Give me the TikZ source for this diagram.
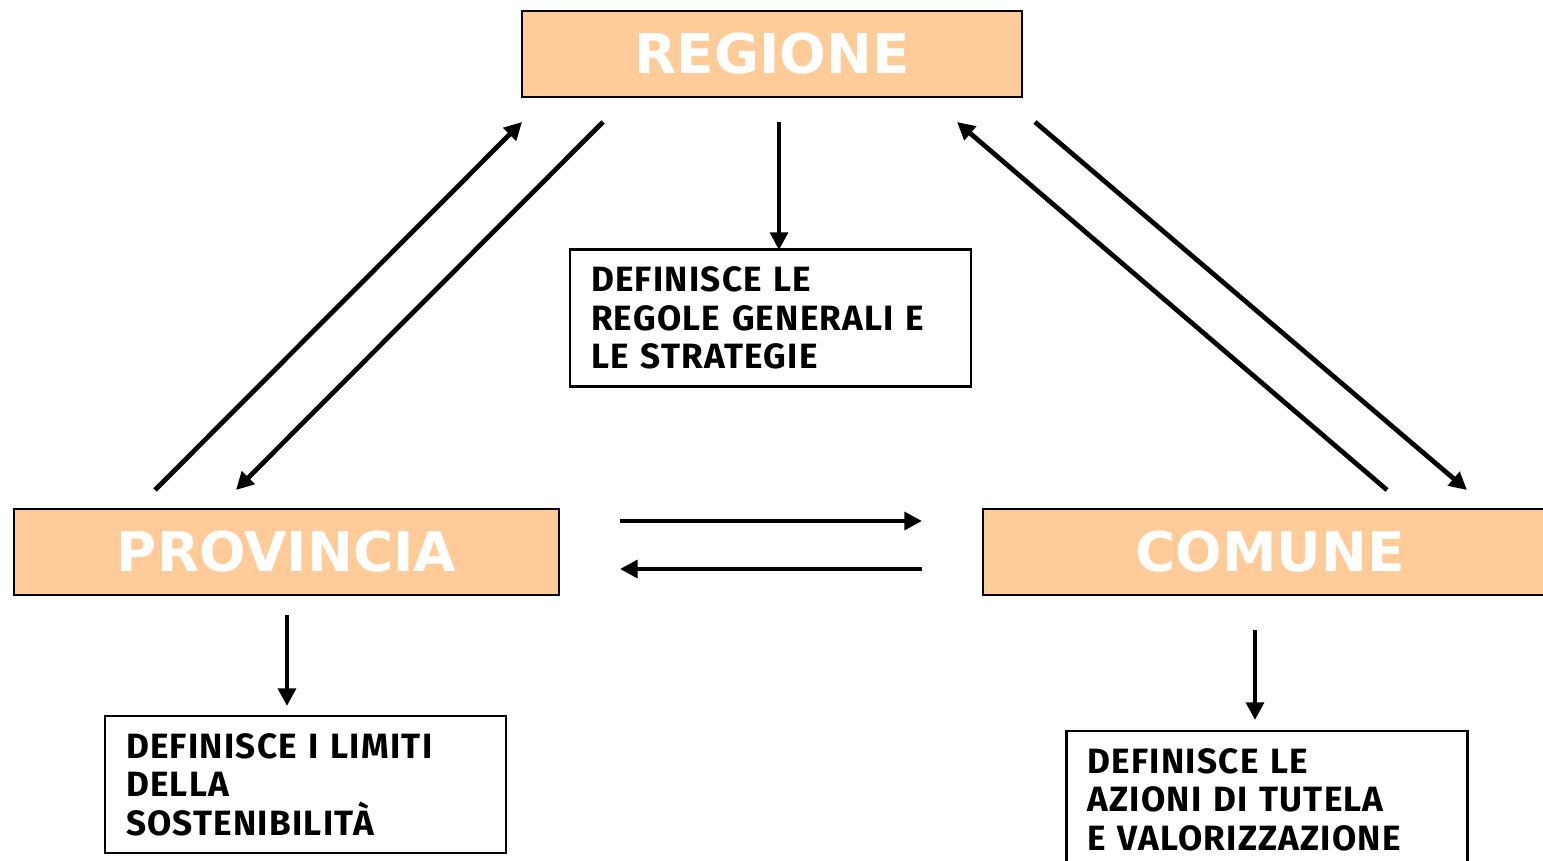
\documentclass[tikz,border=0pt]{standalone}
\usepackage{fontspec}
\newfontfamily\titolofont{DejaVu Sans}
\newfontfamily\testofont[LetterSpace = 3.5]{Fira Sans}
\usepackage{tikz}
\usetikzlibrary{arrows.meta, positioning}
\definecolor{arancio}{HTML}{FFCC99}
\tikzstyle{ente} = [rectangle, fill = arancio, draw = black,
  line width = 1.5pt, minimum height = 1.72cm, inner sep = 0,
  text = white, font = \titolofont\bfseries\fontsize{31.2}{36}\selectfont]
\tikzstyle{compito} = [
  rectangle, draw = black, line width = 1.2pt,
  minimum height = 2.74cm, text width = 7.18cm, inner xsep = 0.42cm,
  align = left, font = \testofont\bfseries\fontsize{20}{21.9}\selectfont
]
\tikzstyle{freccia} = [-{Triangle[length = 10pt, width = 10pt]},
  line width = 2.7pt]

\begin{document}
\begin{tikzpicture}[x = 0.02cm, y = -0.02cm]
    \useasboundingbox (0, 0) rectangle (1543, 861);
    \node [ente, minimum width = 10cm] (reg) at (772, 54) {REGIONE};
    \node [ente, minimum width = 10.9cm] (prov) at (286.5, 552) {PROVINCIA};
    \node [ente, minimum width = 11.48cm] (com) at (1270, 552) {COMUNE};
    \node [compito] (def-reg) at (770.5, 318)
      {DEFINISCE LE\\REGOLE GENERALI E\\LE STRATEGIE};
    \node [compito] (def-prov) at (305.5, 784.5)
      {DEFINISCE I LIMITI\\DELLA\\SOSTENIBILITÀ};
    \node [compito] (def-com) at (1267, 799.5)
      {DEFINISCE LE\\AZIONI DI TUTELA\\E VALORIZZAZIONE};
    % estremi delle frecce
    \coordinate (reg-giu) at (779, 122);
    \coordinate (reg-sx-a) at (522, 122);
    \coordinate (reg-sx-b) at (603, 122);
    \coordinate (reg-dx-a) at (957, 122);
    \coordinate (reg-dx-b) at (1035, 122);
    \coordinate (def-reg-su) at (779, 250);
    \coordinate (prov-su-a) at (155, 490);
    \coordinate (prov-su-b) at (236, 490);
    \coordinate (prov-giu) at (287, 615);
    \coordinate (def-prov-su) at (287, 706);
    \coordinate (prov-dx-a) at (620, 521);
    \coordinate (prov-dx-b) at (620, 569);
    \coordinate (com-sx-a) at (922, 521);
    \coordinate (com-sx-b) at (922, 569);
    \coordinate (com-su-a) at (1387, 490);
    \coordinate (com-su-b) at (1467, 490);
    \coordinate (com-giu) at (1255, 630);
    \coordinate (def-com-su) at (1255, 720);
    % frecce
    \draw [freccia] (reg-giu) -- (def-reg-su);
    \draw [freccia] (prov-su-a) -- (reg-sx-a);
    \draw [freccia] (reg-sx-b) -- (prov-su-b);
    \draw [freccia] (com-su-a) -- (reg-dx-a);
    \draw [freccia] (reg-dx-b) -- (com-su-b);
    \draw [freccia] (prov-dx-a) -- (com-sx-a);
    \draw [freccia] (com-sx-b) -- (prov-dx-b);
    \draw [freccia] (prov-giu) -- (def-prov-su);
    \draw [freccia] (com-giu) -- (def-com-su);
  \end{tikzpicture}
\end{document}
